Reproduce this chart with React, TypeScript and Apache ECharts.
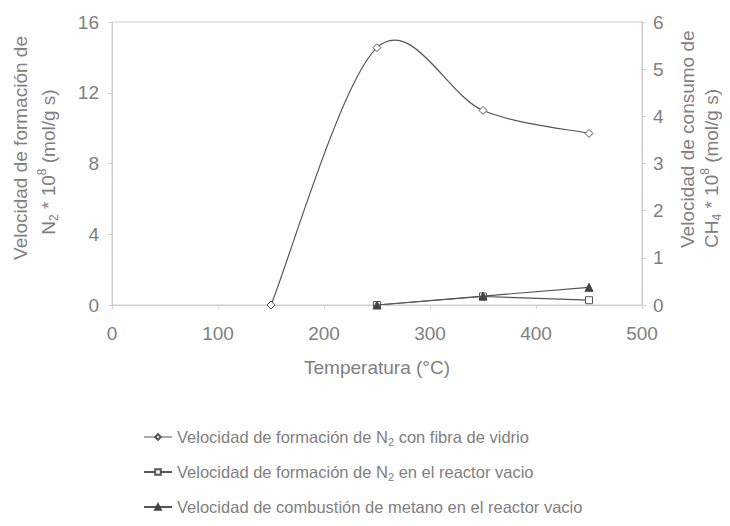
import React, { useEffect, useRef } from "react";
import * as echarts from "echarts";

const temps = [150, 250, 350, 450];
const n2Fibra = [0, 14.55, 11.0, 9.7];
const n2Vacio = [null, 0.0, 0.48, 0.27];
const ch4Vacio = [null, 0.0, 0.19, 0.375];

const xTicks = { min: 0, max: 500, interval: 100 };
const yLeftTicks = { min: 0, max: 16, interval: 4 };
const yRightTicks = { min: 0, max: 6, interval: 1 };

const seriesNames = [
  "Velocidad de formación de N2 con fibra de vidrio",
  "Velocidad de formación de N2 en el reactor vacio",
  "Velocidad de combustión de metano en el reactor vacio",
];
const legendLabels = [
  "Velocidad de formación de N{sub|2} con fibra de vidrio",
  "Velocidad de formación de N{sub|2} en el reactor vacio",
  "Velocidad de combustión de metano en el reactor vacio",
];
const leftName = ["Velocidad de formación de", "N{sub|2} * 10{sup|8} (mol/g s)"];
const rightName = ["Velocidad de consumo de", "CH{sub|4} * 10{sup|8} (mol/g s)"];
const xName = "Temperatura (°C)";

const TXT = "#808080";
const LINE = "#555555";
const AXC = "#cfcfcf";
const FONT = "'Liberation Sans', Arial, sans-serif";

function pairs(ys: (number | null)[]) {
  return temps.map((t, i) => [t, ys[i]]).filter((p) => p[1] !== null) as number[][];
}

export default function App() {
  const ref = useRef<HTMLDivElement>(null);
  useEffect(() => {
    const chart = echarts.init(ref.current!, null, { renderer: "svg" });
    const nameRich = {
      sub: { fontSize: 12, color: TXT, fontFamily: FONT, verticalAlign: "bottom" },
      sup: { fontSize: 12, color: TXT, fontFamily: FONT, verticalAlign: "top" },
    };
    const legRich = {
      sub: { fontSize: 11, color: TXT, fontFamily: FONT, verticalAlign: "bottom" },
    };
    const nameStyle = (text: string, align: string) => ({
      text,
      fill: TXT,
      fontSize: 19,
      fontFamily: FONT,
      lineHeight: 24,
      align,
      verticalAlign: "middle",
      rich: nameRich,
    });
    const fibraPts = pairs(n2Fibra);

    chart.setOption({
      animation: false,
      textStyle: { fontFamily: FONT },
      grid: { left: 112, right: 88, top: 22, bottom: 221, show: true, borderColor: AXC, borderWidth: 1 },
      xAxis: {
        type: "value",
        ...xTicks,
        name: xName,
        nameLocation: "middle",
        nameGap: 53,
        nameTextStyle: { color: TXT, fontSize: 19, fontFamily: FONT, verticalAlign: "top" },
        axisLine: { show: true, lineStyle: { color: AXC } },
        axisTick: { show: true, length: 4, lineStyle: { color: AXC } },
        axisLabel: { color: TXT, fontSize: 19, margin: 19, fontFamily: FONT },
        splitLine: { show: false },
      },
      yAxis: [
        {
          type: "value",
          ...yLeftTicks,
          position: "left",
          axisLine: { show: true, lineStyle: { color: AXC } },
          axisTick: { show: true, length: 4, lineStyle: { color: AXC } },
          axisLabel: { color: TXT, fontSize: 19, margin: 13, fontFamily: FONT },
          splitLine: { show: false },
        },
        {
          type: "value",
          ...yRightTicks,
          position: "right",
          axisLine: { show: true, lineStyle: { color: AXC } },
          axisTick: { show: true, length: 4, lineStyle: { color: AXC } },
          axisLabel: { color: TXT, fontSize: 19, margin: 11, fontFamily: FONT },
          splitLine: { show: false },
        },
      ],
      graphic: [
        { type: "text", x: 20, y: 148, rotation: Math.PI / 2, style: nameStyle(leftName[0], "center") },
        { type: "text", x: 48, y: 162, rotation: Math.PI / 2, style: nameStyle(leftName[1], "center") },
        { type: "text", x: 687, y: 248, rotation: Math.PI / 2, style: nameStyle(rightName[0], "left") },
        { type: "text", x: 711, y: 248, rotation: Math.PI / 2, style: nameStyle(rightName[1], "left") },
      ],
      legend: {
        orient: "vertical",
        left: 143,
        top: 427,
        padding: 0,
        itemGap: 15,
        itemWidth: 28,
        itemHeight: 7,
        data: [
          { name: seriesNames[0], lineStyle: { opacity: 1, color: LINE, width: 1 } },
          { name: seriesNames[1] },
          { name: seriesNames[2] },
        ],
        formatter: (name: string) => legendLabels[seriesNames.indexOf(name)],
        textStyle: { color: TXT, fontSize: 16.5, fontFamily: FONT, lineHeight: 20, rich: legRich },
      },
      series: [
        {
          name: seriesNames[0],
          type: "line",
          yAxisIndex: 0,
          data: fibraPts,
          symbol: "diamond",
          symbolSize: 8,
          z: 5,
          itemStyle: { color: "#fff", borderColor: LINE, borderWidth: 1 },
          lineStyle: { color: LINE, width: 1.2, opacity: 0 },
        },
        {
          name: "curve",
          type: "custom",
          coordinateSystem: "cartesian2d",
          yAxisIndex: 0,
          z: 3,
          silent: true,
          data: fibraPts,
          encode: { x: 0, y: 1 },
          renderItem: (params: any, api: any) => {
            const i = params.dataIndex;
            const n = fibraPts.length;
            if (i >= n - 1) return null;
            const c = (k: number) => api.coord(fibraPts[Math.max(0, Math.min(n - 1, k))]);
            const p0 = c(i - 1), p1 = c(i), p2 = c(i + 1), p3 = c(i + 2);
            return {
              type: "bezierCurve",
              shape: {
                x1: p1[0], y1: p1[1],
                cpx1: p1[0] + (p2[0] - p0[0]) / 6, cpy1: p1[1] + (p2[1] - p0[1]) / 6,
                cpx2: p2[0] - (p3[0] - p1[0]) / 6, cpy2: p2[1] - (p3[1] - p1[1]) / 6,
                x2: p2[0], y2: p2[1],
              },
              style: { stroke: LINE, lineWidth: 1.2, fill: null },
            };
          },
        },
        {
          name: seriesNames[1],
          type: "line",
          yAxisIndex: 0,
          data: pairs(n2Vacio),
          symbol: "rect",
          symbolSize: 7,
          z: 4,
          itemStyle: { color: "#fff", borderColor: LINE, borderWidth: 1 },
          lineStyle: { color: LINE, width: 1.2 },
        },
        {
          name: seriesNames[2],
          type: "line",
          yAxisIndex: 1,
          data: pairs(ch4Vacio),
          symbol: "triangle",
          symbolSize: 8,
          z: 5,
          itemStyle: { color: "#444", borderColor: "#444", borderWidth: 1 },
          lineStyle: { color: LINE, width: 1.2 },
        },
      ],
    });
    return () => chart.dispose();
  }, []);
  return <div ref={ref} style={{ width: 730, height: 526, margin: -8 }} />;
}
